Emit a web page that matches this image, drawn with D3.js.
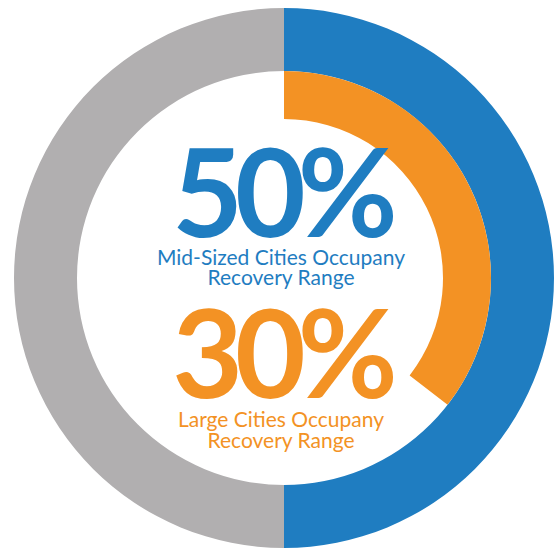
<!DOCTYPE html>
<html>
<head>
<meta charset="utf-8">
<script src="https://cdn.jsdelivr.net/npm/d3@7"></script>
<style>
  body { margin: 0; background: #fff; }
  svg { display: block; }
</style>
</head>
<body>
<div id="visualization"></div>
<script>
// ring values
const outerLabels = ["Mid-Sized Cities", "Rest"];
const outerValues = [50, 50];
const innerLabels = ["Large Cities", "Rest"];
const innerValues = [35.5, 64.5];

const bigNumbers = ["50%", "30%"];
const captionLines = [
  ["Mid-Sized Cities Occupany", "Recovery Range"],
  ["Large Cities Occupany", "Recovery Range"]
];

const blue = "#1f7dc1", gray = "#b1afb0", orange = "#f39224";

var width = 558, height = 551;
var cx = 284, cy = 278;

var svg = d3.select("#visualization")
  .append("svg")
    .attr("width", width)
    .attr("height", height);

var g = svg.append("g").attr("transform", `translate(${cx}, ${cy})`);

var pie = d3.pie().sort(null).value(d => d);

// outer ring
var outerArc = d3.arc().innerRadius(207).outerRadius(270);
g.selectAll("path.outer")
  .data(pie(outerValues))
  .join("path")
  .attr("class", "outer")
  .attr("d", outerArc)
  .attr("fill", (d, i) => i == 0 ? blue : gray);

// inner ring, only the first slice is visible
var innerArc = d3.arc().innerRadius(159).outerRadius(207);
g.selectAll("path.inner")
  .data(pie(innerValues))
  .join("path")
  .attr("class", "inner")
  .attr("d", innerArc)
  .attr("fill", (d, i) => i == 0 ? orange : "none");

// center text
var textX = 281;
var blocks = [
  {color: blue, bigY: 237, capY: [265, 285]},
  {color: orange, bigY: 398, capY: [427, 448]}
];

blocks.forEach((b, i) => {
  svg.append("text")
    .attr("x", textX)
    .attr("y", b.bigY)
    .attr("text-anchor", "middle")
    .style("font-family", "Lato, sans-serif")
    .style("font-weight", "bold")
    .style("font-size", "122px")
    .style("letter-spacing", "-8px")
    .attr("fill", b.color)
    .text(bigNumbers[i]);

  svg.selectAll(null)
    .data(captionLines[i])
    .join("text")
    .attr("x", textX)
    .attr("y", (d, j) => b.capY[j])
    .attr("text-anchor", "middle")
    .style("font-family", "Lato, sans-serif")
    .style("font-size", "21px")
    .attr("fill", b.color)
    .text(d => d);
});
</script>
</body>
</html>
